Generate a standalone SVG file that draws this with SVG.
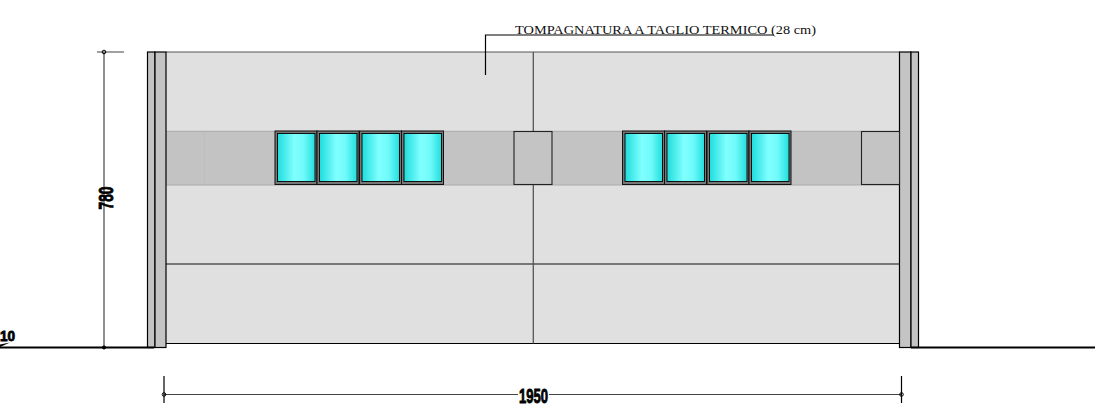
<svg xmlns="http://www.w3.org/2000/svg" width="1099" height="414" viewBox="0 0 1099 414">
<style>
.wall{fill:#c4c4c4;stroke:#000;stroke-width:1.2}
.panel{fill:#e0e0e0}
.band{fill:#c3c3c3}
.l{stroke:#444;stroke-width:1.2;fill:none}
.k{stroke:#000;stroke-width:1.2;fill:none}
.frame{fill:#777;stroke:#111;stroke-width:1}
.glass{fill:url(#g);stroke:#000;stroke-width:.9}
.box{fill:#c4c4c4;stroke:#222;stroke-width:1.1}
.dim{font-family:"Liberation Sans",Arial,sans-serif;font-weight:bold;font-size:21px;fill:#000;stroke:#000;stroke-width:.9}
.note{font-family:"Liberation Serif","Times New Roman",serif;font-size:13.500px;fill:#111}
</style>
<defs>
<linearGradient id="g" x1="0" x2="1" y1="0" y2="0">
<stop offset="0" stop-color="#1fdcdc"/><stop offset=".45" stop-color="#80ffff"/><stop offset=".7" stop-color="#70fafa"/><stop offset="1" stop-color="#22dede"/>
</linearGradient>
<g id="win"><rect class="frame" x="0" y="0" width="42" height="53.500"/><rect class="glass" x="2.500" y="2.500" width="37.500" height="48"/></g>
</defs>
<g id="facade">
<rect class="panel" x="166" y="52" width="733.500" height="291.500"/>
<rect class="band" x="166" y="131" width="733.500" height="54"/>
<path d="M166 131.300H899.500M166 185H899.500" stroke="#aaa" stroke-width="1"/>
<path d="M204.500 131V185" stroke="#bbb" stroke-width=".6"/>
<path d="M166 52H899.500" stroke="#555" stroke-width="1.200"/>
<path d="M166 343.500H899.500" stroke="#000" stroke-width="1.200"/>
<path d="M166 264H899.500" stroke="#555" stroke-width="1.300"/>
<path d="M533.300 52V343.500" stroke="#555" stroke-width="1.300"/>
</g>
<g id="wall-left">
<rect class="wall" x="147.500" y="52" width="7.500" height="295.500"/>
<rect class="wall" x="155" y="52" width="11" height="295.500"/>
</g>
<g id="wall-right">
<rect class="wall" x="899.500" y="52" width="11.500" height="295.500"/>
<rect class="wall" x="911" y="52" width="7.500" height="295.500"/>
</g>
<g id="windows-left">
<use href="#win" x="275" y="131"/><use href="#win" x="317" y="131"/><use href="#win" x="359.500" y="131"/><use href="#win" x="401.500" y="131"/>
</g>
<g id="door-left"><rect class="box" x="514" y="131.500" width="38" height="53"/></g>
<g id="windows-right">
<use href="#win" x="622.500" y="131"/><use href="#win" x="664.500" y="131"/><use href="#win" x="707" y="131"/><use href="#win" x="749" y="131"/>
</g>
<g id="door-right"><rect class="box" x="861.500" y="131.500" width="38" height="53"/></g>
<g id="ground">
<path d="M0 347.500H154M911 347.500H1095" stroke="#000" stroke-width="2"/>
</g>
<g id="connectors">
<path class="l" d="M104 52V347M97 52H124"/>
<circle cx="104" cy="52" r="1.800" fill="none" stroke="#000" stroke-width="1"/>
<circle cx="104" cy="347.500" r="2" fill="#000"/>
<path class="l" d="M164 394.500H518M549 394.500H901.500"/>
<path class="k" d="M164 376V403M901.500 376V403"/>
<circle cx="164" cy="394.500" r="1.800" fill="none" stroke="#000" stroke-width="1"/>
<circle cx="901.500" cy="394.500" r="1.800" fill="none" stroke="#000" stroke-width="1"/>
<path class="k" d="M485.500 75V35H774"/>
</g>
<g id="labels">
<text class="note" x="515" y="34" textLength="301" lengthAdjust="spacingAndGlyphs">TOMPAGNATURA A TAGLIO TERMICO (28 cm)</text>
<text class="dim" transform="translate(113,198) rotate(-90)" text-anchor="middle" textLength="23" lengthAdjust="spacingAndGlyphs">780</text>
<text class="dim" x="533.500" y="403" text-anchor="middle" textLength="29" lengthAdjust="spacingAndGlyphs">1950</text>
<text class="dim" style="font-size:15px" x="0" y="341" textLength="15" lengthAdjust="spacingAndGlyphs">10</text>
<path d="M0 347L10 342.500L0 344.500Z" fill="#000"/>
</g>
</svg>
